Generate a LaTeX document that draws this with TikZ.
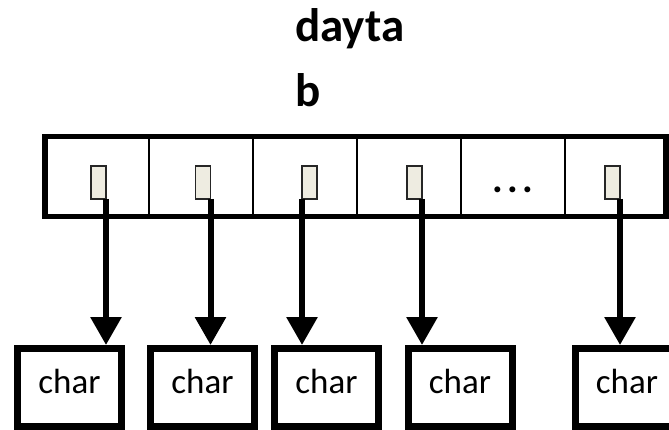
\documentclass[tikz,border=0pt]{standalone}
\usepackage{fontspec}
\setmainfont{Carlito}
\usetikzlibrary{arrows.meta}
\definecolor{ptrfill}{HTML}{EEECE1}
\begin{document}
\begin{tikzpicture}[x=1pt,y=-1pt,
  cellbox/.style={draw, line width=2pt, minimum height=80pt, inner sep=0pt, outer sep=0pt},
  ptr/.style={draw=black!85, fill=ptrfill, line width=1.5pt, minimum width=15pt, minimum height=33pt, inner sep=0pt, outer sep=0pt},
  charbox/.style={draw, line width=7pt, minimum width=104pt, minimum height=78pt, inner sep=0pt,
    font=\fontsize{35}{40}\selectfont, text height=25pt, text depth=14pt},
  titletext/.style={font=\fontsize{47}{54}\selectfont\bfseries, inner sep=0pt, anchor=base west},
  link/.style={line width=6pt, -{Triangle[width=30pt,length=28pt]}}
]
\useasboundingbox[fill=white] (0,0) rectangle (669,430);

\node[titletext] (t1) at (295,42) {dayta};
\node[titletext] (t2) at (295,107) {b};

% array cells
\node[cellbox, minimum width=104pt] (a1) at (97,176.5) {};
\node[cellbox, minimum width=104pt] (a2) at (201,176.5) {};
\node[cellbox, minimum width=104pt] (a3) at (305,176.5) {};
\node[cellbox, minimum width=104pt] (a4) at (409,176.5) {};
\node[cellbox, minimum width=104pt] (a5) at (513,176.5) {};
\node[cellbox, minimum width=101pt] (a6) at (615.5,176.5) {};
\draw[line width=5.5pt] (a1.north west) rectangle (a6.south east);

\node[font=\fontsize{40}{44}\selectfont\bfseries, inner sep=0pt, anchor=base] (dots) at (513,193) {.\kern4pt.\kern4pt.};

% pointers
\node[ptr] (p1) at (98.5,182.5) {};
\node[ptr] (p2) at (203,182.5) {};
\node[ptr] (p3) at (309.5,182.5) {};
\node[ptr] (p4) at (414.5,182.5) {};
\node[ptr] (p5) at (612.5,182.5) {};

% char boxes
\node[charbox] (c1) at (69.5,387.5) {char};
\node[charbox] (c2) at (202.5,387.5) {char};
\node[charbox] (c3) at (326.5,387.5) {char};
\node[charbox] (c4) at (460,387.5) {char};
\node[charbox] (c5) at (627,387.5) {char};

% links
\draw[link] (p1.south east) -- (p1.south east |- c1.north);
\draw[link] (p2.south east) -- (p2.south east |- c2.north);
\draw[link] (p3.south west) -- (p3.south west |- c3.north);
\draw[link] (p4.south east) -- (p4.south east |- c4.north);
\draw[link] (p5.south east) -- (p5.south east |- c5.north);
\end{tikzpicture}
\end{document}
